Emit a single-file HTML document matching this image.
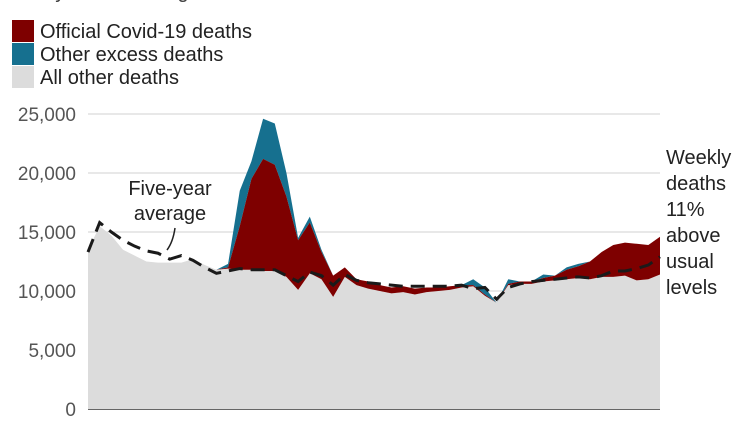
<!DOCTYPE html>
<html><head><meta charset="utf-8"><style>
body{margin:0;background:#fff;font-family:"Liberation Sans",sans-serif;}
svg text{font-family:"Liberation Sans",sans-serif;}
</style></head><body>
<svg width="752" height="440" id="c">
<text x="0" y="-2" font-size="20" fill="#404040">Weekly UK death registrations</text>
<g>
<rect x="12" y="20" width="22" height="22" fill="#7e0000"/>
<text x="40" y="38" font-size="20" fill="#222">Official Covid-19 deaths</text>
<rect x="12" y="43" width="22" height="22" fill="#16708f"/>
<text x="40" y="61" font-size="20" fill="#222">Other excess deaths</text>
<rect x="12" y="66" width="22" height="22" fill="#dcdcdc"/>
<text x="40" y="84" font-size="20" fill="#222">All other deaths</text>
</g>
<g id="grid"></g><g id="areas"></g><g id="lines"></g>
<text x="170" y="195" font-size="20" fill="#222" text-anchor="middle">Five-year</text>
<text x="170" y="220" font-size="20" fill="#222" text-anchor="middle">average</text>
<path d="M175 228 Q173 242 167 250" stroke="#222" stroke-width="1.5" fill="none"/>
<g font-size="20" fill="#222">
<text x="666" y="164">Weekly</text><text x="666" y="190">deaths</text><text x="666" y="216">11%</text>
<text x="666" y="242">above</text><text x="666" y="268">usual</text><text x="666" y="294">levels</text></g>
</svg>
<script>
const other=[13.5,15.5,14.7,13.5,13.0,12.5,12.4,12.4,12.4,12.7,12.2,11.8,11.9,11.8,11.8,11.7,11.7,11.2,10.1,11.5,11.0,9.5,11.2,10.5,10.2,10.0,9.8,9.9,9.7,9.9,10.0,10.1,10.3,10.4,9.6,9.0,10.5,10.6,10.6,10.8,10.9,11.0,11.1,11.0,11.2,11.2,11.3,10.9,11.0,11.4];
const covid=[0,0,0,0,0,0,0,0,0,0,0,0,0.1,3.7,7.7,9.5,9.0,6.8,4.2,4.3,2.3,1.8,0.8,0.5,0.6,0.5,0.5,0.5,0.5,0.4,0.3,0.3,0.2,0.1,0.1,0,0.1,0.2,0.2,0.3,0.4,0.8,1.0,1.5,2.1,2.7,2.8,3.1,2.9,3.2];
const excess=[0,0,0,0,0,0,0,0,0,0,0,0,0.3,3.0,1.5,3.4,3.5,2.0,0.2,0.5,0.2,0,0,0,0,0,0,0,0,0,0,0,0,0.5,0.6,0,0.4,0,0,0.3,0,0.2,0.2,0,0,0,0,0,0,0];
const average=[13.3,15.8,15.0,14.3,13.8,13.4,13.2,12.7,13.0,12.6,12.0,11.5,11.7,11.9,11.8,11.8,11.8,11.3,10.8,11.6,11.3,10.5,11.4,10.9,10.7,10.6,10.5,10.4,10.4,10.4,10.4,10.4,10.5,10.2,10.3,9.3,10.3,10.6,10.8,10.9,11.0,11.1,11.2,11.1,11.3,11.7,11.7,11.9,12.2,12.9];
const yTicks=[0,5000,10000,15000,20000,25000];
const X0=88,X1=660,Y0=409,Y1=114;
const x=i=>X0+(X1-X0)*i/(other.length-1);
const y=v=>Y0-(Y0-Y1)*v/25000;
const NS="http://www.w3.org/2000/svg";
function mk(t,a,p){const e=document.createElementNS(NS,t);for(const k in a)e.setAttribute(k,a[k]);p.appendChild(e);return e;}
const grid=document.getElementById('grid');
yTicks.forEach(t=>{
 const l=mk('line',{x1:X0,x2:X1,y1:y(t),y2:y(t),stroke:t?'#d0d0d0':'#333','stroke-width':t?1:1.5},grid);
 
 
 const tx=mk('text',{x:76,y:y(t)+7,'font-size':19,fill:'#555','text-anchor':'end'},grid);
 tx.textContent=t.toLocaleString('en-US');
 
 
});
const areas=document.getElementById('areas');
function band(lo,hi,fill,name){
 let d='M'+x(0)+','+y(hi[0]*1000);
 for(let i=1;i<hi.length;i++)d+='L'+x(i)+','+y(hi[i]*1000);
 for(let i=lo.length-1;i>=0;i--)d+='L'+x(i)+','+y(lo[i]*1000);
 const p=mk('path',{d:d+'Z',fill:fill},areas);
 
 
}
const zero=other.map(()=>0);
const t1=other.map((v,i)=>v+covid[i]);
const t2=t1.map((v,i)=>v+excess[i]);
band(zero,other,'#dcdcdc','other-deaths-area');
band(t1,t2,'#16708f','excess-deaths-area');
band(other,t1,'#7e0000','covid-deaths-area');
const lines=document.getElementById('lines');
const ln=mk('polyline',{points:average.map((v,i)=>x(i)+','+y(v*1000)).join(' '),fill:'none',stroke:'#1a1a1a','stroke-width':3,'stroke-dasharray':'14 8'},lines);


</script>
</body></html>
